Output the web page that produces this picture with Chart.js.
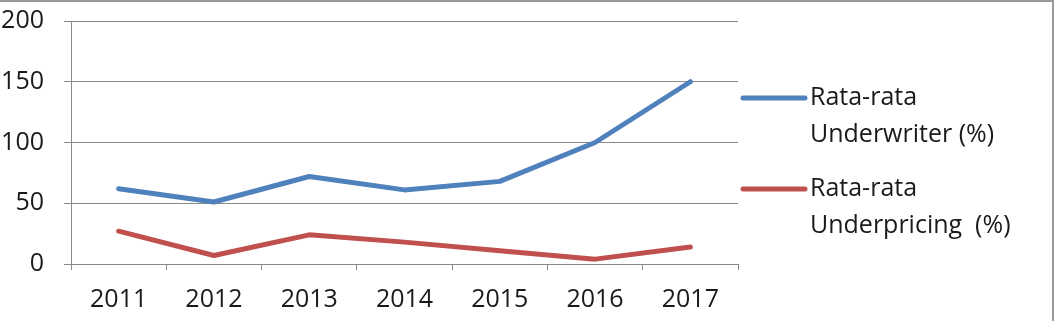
<!DOCTYPE html>
<html>
<head>
<meta charset="utf-8">
<script src="https://cdn.jsdelivr.net/npm/chart.js@4"></script>
<style>
  body { margin: 0; background: #fff; }
  #wrap { width: 1060px; height: 321px; position: relative; }
</style>
</head>
<body>
<div id="wrap"><canvas id="rataChart"></canvas></div>
<script>
    // data
    var years = ['2011', '2012', '2013', '2014', '2015', '2016', '2017'];
    var underwriter = [62, 51, 72, 61, 68, 100, 150];
    var underpricing = [27, 7, 24, 18, 11, 4, 14];
    var legendLines = [['Rata-rata', 'Underwriter (%)'], ['Rata-rata', 'Underpricing  (%)']];

    var fontFam = '"Open Sans", "Liberation Sans", sans-serif';

    // legend with wrapped labels, drawn by hand on the right
    var sideLegend = {
        id: 'sideLegend',
        afterDraw: function (chart) {
            var c = chart.ctx;
            var x0 = chart.chartArea.right + 5;
            var rows = [98, 189];
            c.save();
            chart.data.datasets.forEach(function (ds, i) {
                var y = rows[i];
                c.strokeStyle = ds.borderColor;
                c.lineWidth = 5;
                c.lineCap = 'round';
                c.beginPath();
                c.moveTo(x0, y);
                c.lineTo(x0 + 62, y);
                c.stroke();
                c.fillStyle = '#1a1a1a';
                c.font = '25px ' + fontFam;
                c.textBaseline = 'middle';
                legendLines[i].forEach(function (t, j) {
                    c.fillText(t, x0 + 67, y + j * 37);
                });
            });
            // frame of the chart box (top and right visible)
            c.strokeStyle = '#9a9a9a';
            c.lineWidth = 2;
            c.beginPath();
            c.moveTo(0, 1);
            c.lineTo(1053, 1);
            c.lineTo(1053, 321);
            c.stroke();
            c.restore();
        }
    };

    var ctx = document.getElementById('rataChart').getContext('2d');
    var rataChart = new Chart(ctx, {
        type: 'line',
        data: {
            labels: years,
            datasets: [{
                label: 'Rata-rata Underwriter (%)',
                data: underwriter,
                borderColor: '#4F81BD',
                backgroundColor: '#4F81BD',
                borderWidth: 5,
                pointRadius: 0,
                tension: 0,
                borderCapStyle: 'round',
                borderJoinStyle: 'round'
            }, {
                label: 'Rata-rata Underpricing  (%)',
                data: underpricing,
                borderColor: '#C0504D',
                backgroundColor: '#C0504D',
                borderWidth: 5,
                pointRadius: 0,
                tension: 0,
                borderCapStyle: 'round',
                borderJoinStyle: 'round'
            }]
        },
        options: {
            responsive: true,
            maintainAspectRatio: false,
            animation: false,
            layout: { padding: { top: 21, right: 322, left: 0, bottom: 0 } },
            plugins: {
                legend: { display: false },
                tooltip: { enabled: false }
            },
            scales: {
                x: {
                    offset: true,
                    grid: { offset: true, drawOnChartArea: false, drawTicks: true, tickLength: 6, color: '#8a8a8a' },
                    border: { color: '#8a8a8a' },
                    ticks: { color: '#1a1a1a', font: { family: fontFam, size: 25 }, padding: 15, maxRotation: 0 },
                    afterFit: function (s) { s.height = 57; s.paddingLeft = 0; s.paddingRight = 0; }
                },
                y: {
                    min: 0,
                    max: 200,
                    ticks: { stepSize: 50, color: '#1a1a1a', font: { family: fontFam, size: 25 }, padding: 20 },
                    grid: { color: '#8a8a8a', tickLength: 7 },
                    border: { color: '#8a8a8a' },
                    afterFit: function (s) { s.width = 71; s.paddingTop = 0; s.paddingBottom = 0; }
                }
            }
        },
        plugins: [sideLegend]
    });
</script>
</body>
</html>
